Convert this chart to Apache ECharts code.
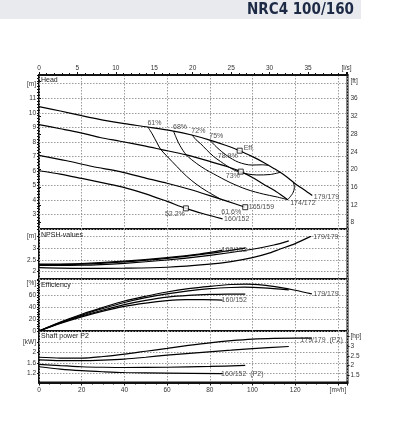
<!DOCTYPE html>
<html><head><meta charset="utf-8">
<script src="https://cdn.jsdelivr.net/npm/echarts@6/dist/echarts.min.js"></script>
<style>html,body{margin:0;padding:0;background:#fff}#c{width:394px;height:425px}</style>
</head><body><div id="c"></div>
<script>
// ---------- data ----------
const curveNames = ['179/179', '174/172', '165/159', '160/152'];
// Head [m] vs Q [m3/h]
const headA = [[0,10.42],[10,10.12],[20,9.8],[30,9.5],[40,9.25],[51,9.02],[63,8.74],[72,8.45],[80,8.12],[87,7.78],[94,7.39],[100,6.98],[105,6.6],[110,6.17],[115,5.7],[120,5.12],[124,4.72],[128,4.3]];
const headB = [[0,9.19],[10,8.9],[20,8.6],[28.6,8.3],[38,8.04],[50,7.7],[57,7.48],[69,7.1],[80,6.65],[88,6.3],[94.5,5.95],[100,5.55],[105,5.1],[111,4.58],[116.5,4.02]];
const headC = [[0,7.07],[13,6.7],[25,6.3],[38,5.95],[50,5.5],[60,5.15],[70,4.75],[80,4.3],[88,3.92],[96.6,3.5]];
const headD = [[0,6.01],[10,5.78],[20,5.48],[30,5.17],[40,4.85],[50,4.42],[60,3.9],[68.8,3.42],[77,3.05],[86,2.7]];
// iso-efficiency lines on head chart
const isoNames = ['61%', '68%', '72%', '75%'];
const iso61 = [[51,9.02],[53,8.55],[55.2,7.95],[57,7.48],[60,7.0],[64.6,6.3],[69.2,5.62],[74,5.05],[78.6,4.6],[85,4.06]];
const iso68 = [[63,8.74],[64.5,8.2],[66,7.75],[69,7.1],[73.9,6.5],[78,6.1],[81.7,5.8],[89.5,5.2],[97.4,4.72],[105.2,4.4],[111,4.22],[116.5,4.02]];
const iso72 = [[71.6,8.49],[73.5,8.15],[75.5,7.9],[78.5,7.45],[81.7,7.0],[85,6.65],[88,6.35],[91.5,6.05],[94.7,5.88],[98,5.78],[102,5.72],[108.3,5.75],[113,5.9]];
const iso75 = [[80,8.12],[83.3,7.62],[88,7.05],[93.4,6.6],[99.7,6.4],[104.4,6.42],[107.5,6.38]];
const limitArc = [[119.2,5.2],[119.6,4.85],[118.8,4.45],[116.5,4.02]];
// best efficiency points
const bepPoints = [[94,7.39],[94.5,5.95],[96.6,3.5],[68.8,3.42]];
const bepLabels = ['78.9%', '73%', '61.6%', '52.2%'];
// NPSH [m]
const npshA = [[0,2.17],[20,2.14],[40,2.15],[60,2.19],[80,2.32],[90,2.43],[100,2.6],[107,2.77],[113,2.97],[120,3.2],[127.5,3.52]];
const npshB = [[0,2.27],[20,2.28],[40,2.36],[60,2.5],[80,2.7],[100,2.96],[110,3.14],[117,3.32]];
const npshC = [[0,2.3],[20,2.32],[40,2.42],[60,2.57],[80,2.78],[96.6,3.01]];
const npshD = [[0,2.33],[20,2.35],[40,2.45],[60,2.6],[75,2.75],[86,2.92]];
// Efficiency [%]
const effA = [[0,0],[10,15],[20,28],[30,39.5],[40,50],[50,58],[60,65],[70,70.5],[80,74.5],[90,77.5],[97,78.2],[105,76.5],[112,73],[120,68],[127.8,62]];
const effB = [[0,0],[10,14],[20,26.5],[30,37.5],[40,47.5],[50,55.5],[60,62],[70,67],[80,70.5],[90,72.5],[96,73],[105,72],[117,68.5]];
const effC = [[0,0],[10,13.5],[20,25],[30,35],[40,44],[50,51],[60,56.5],[70,59.5],[80,61],[90,61.5],[96.6,61.6]];
const effD = [[0,0],[10,12.5],[20,23.5],[30,33],[40,41],[50,46.5],[60,50.5],[68.8,52.2],[77,52.2],[86,51.5]];
// Shaft power P2 [kW]
const powA = [[0,1.81],[10,1.78],[20,1.78],[30,1.84],[40,1.93],[50,2.04],[60,2.15],[70,2.26],[80,2.36],[90,2.44],[100,2.5],[110,2.53],[120,2.54],[127.8,2.54]];
const powB = [[0,1.71],[10,1.68],[20,1.68],[30,1.7],[40,1.74],[50,1.81],[60,1.89],[75,1.99],[90,2.08],[100,2.14],[117,2.22]];
const powC = [[0,1.54],[10,1.49],[20,1.45],[30,1.43],[40,1.42],[60,1.43],[80,1.46],[96.6,1.5]];
const powD = [[0,1.45],[10,1.36],[20,1.3],[30,1.26],[40,1.23],[60,1.21],[86,1.19]];
// tick values
const ftTicks = [8,12,16,20,24,28,32,36,40];
const npshTicks = [2,2.5,3,3.5];
const kwTicks = [1.2,1.6,2.0,2.4];
const hpTicks = [1.5,2,2.5,3,3.5];

// ---------- chart ----------
const FONT = "'Liberation Sans', Arial, sans-serif";
const Q_MAX = 144.5, H_MIN = 2, H_MAX = 12.6;
const M2FT = 3.28084, KW2HP = 1 / 0.7457;
const NPSH_MIN = 1.688, NPSH_MAX = 3.825, KW_MIN = 0.85, KW_MAX = 2.81;
const lbl = {fontSize: 6.5, color: '#333', fontFamily: FONT};
const dotted = {show: true, lineStyle: {color: '#9a9a9a', type: [1.5, 1.5], width: 1}};
const G = [
  {left: 39, top: 75, width: 308.5, height: 154},
  {left: 39, top: 229, width: 308.5, height: 50},
  {left: 39, top: 279, width: 308.5, height: 52},
  {left: 39, top: 331, width: 308.5, height: 51.5}
].map(g => Object.assign({show: true, borderColor: '#111', borderWidth: 2, backgroundColor: 'transparent'}, g));

function qAxis(gi, showLabels) {
  return {type: 'value', gridIndex: gi, min: 0, max: Q_MAX, interval: 20, position: 'bottom',
    axisLine: {show: showLabels, lineStyle: {color: '#111', width: 2}},
    axisTick: {show: showLabels, length: 3, lineStyle: {color: '#111'}},
    minorTick: {show: showLabels, splitNumber: 4, length: 2, lineStyle: {color: '#111'}},
    axisLabel: Object.assign({show: showLabels, margin: 4, showMaxLabel: true,
      formatter: v => v === 140 ? '[m³/h]' : (v > 140 ? '' : v)}, lbl),
    splitLine: dotted};
}
const xAxis = [
  qAxis(0, false),
  {type: 'value', gridIndex: 0, min: 0, max: Q_MAX / 3.6, interval: 5, position: 'top',
    axisLine: {show: true, lineStyle: {color: '#111', width: 2}},
    axisTick: {show: true, length: 3, lineStyle: {color: '#111'}},
    minorTick: {show: true, splitNumber: 5, length: 2, lineStyle: {color: '#111'}},
    axisLabel: Object.assign({margin: 3, formatter: v => v === 40 ? '[l/s]' : (v > 40 ? '' : v)}, lbl),
    splitLine: {show: false}},
  qAxis(1, false), qAxis(2, false), qAxis(3, true)
];
function yCustom(gi, min, max, ticks, unit, pos, fmt) {
  const last = ticks[ticks.length - 1];
  return {type: 'value', gridIndex: gi, min, max, position: pos,
    axisLine: {show: false},
    axisTick: {show: true, length: 2, customValues: ticks, lineStyle: {color: '#111'}},
    axisLabel: Object.assign({margin: 3, customValues: ticks, formatter: v => Math.abs(v - last) < 1e-6 ? unit : (fmt ? fmt(v) : v)}, lbl),
    splitLine: pos === 'left' ? dotted : {show: false}};
}
const yAxis = [
  {type: 'value', gridIndex: 0, min: H_MIN, max: H_MAX, interval: 1, position: 'left',
    axisLine: {show: false},
    axisTick: {show: true, length: 2, lineStyle: {color: '#111'}},
    minorTick: {show: true, splitNumber: 5, length: 2, lineStyle: {color: '#111'}},
    axisLabel: Object.assign({margin: 3, formatter: v => v === 12 ? '[m]' : ((v < 3 || v > 12) ? '' : v)}, lbl),
    splitLine: dotted},
  yCustom(0, H_MIN * M2FT, H_MAX * M2FT, ftTicks, '[ft]', 'right'),
  yCustom(1, NPSH_MIN, NPSH_MAX, npshTicks, '[m]', 'left'),
  {type: 'value', gridIndex: 2, min: 0, max: 86.7, interval: 20, position: 'left',
    axisLine: {show: false},
    axisTick: {show: true, length: 2, lineStyle: {color: '#111'}},
    minorTick: {show: true, splitNumber: 5, length: 2, lineStyle: {color: '#111'}},
    axisLabel: Object.assign({margin: 3, formatter: v => v === 80 ? '[%]' : (v > 80 ? '' : v)}, lbl),
    splitLine: dotted},
  yCustom(3, KW_MIN, KW_MAX, kwTicks, '[kW]', 'left', v => String(v)),
  yCustom(3, KW_MIN * KW2HP, KW_MAX * KW2HP, hpTicks, '[hp]', 'right')
];

function curve(data, xi, yi, w) {
  return {type: 'line', xAxisIndex: xi, yAxisIndex: yi, data, showSymbol: false, smooth: 0.3,
    silent: true, animation: false, z: 3, lineStyle: {color: '#000', width: w || 1.1}};
}
function ann(xi, yi, items) {
  return {type: 'scatter', xAxisIndex: xi, yAxisIndex: yi, symbolSize: 0, silent: true, z: 6, animation: false,
    data: items.map(it => ({value: it[0], label: {show: true, formatter: it[1], position: 'inside',
      align: it[2], verticalAlign: 'middle', offset: it[3], fontSize: 7, color: '#222', fontFamily: FONT}}))};
}
const last = a => a[a.length - 1];
const isoLines = [iso61, iso68, iso72, iso75];

const series = [];
[headA, headB, headC, headD].forEach(d => series.push(curve(d, 0, 0, 1.2)));
isoLines.forEach(d => series.push(curve(d, 0, 0, 1.0)));
series.push(curve(limitArc, 0, 0, 1.0));
series.push({type: 'scatter', xAxisIndex: 0, yAxisIndex: 0, data: bepPoints, symbol: 'rect', symbolSize: 5,
  silent: true, z: 5, animation: false, itemStyle: {color: '#fff', borderColor: '#000', borderWidth: 1}});
series.push(ann(0, 0, [
  [isoLines[0][0], isoNames[0], 'center', [6.5, -4]],
  [isoLines[1][0], isoNames[1], 'center', [6.5, -4]],
  [isoLines[2][0], isoNames[2], 'center', [6.5, -4]],
  [isoLines[3][0], isoNames[3], 'center', [6.5, -4]],
  [bepPoints[0], 'Eff.', 'left', [4, -3]],
  [bepPoints[0], bepLabels[0], 'center', [-12, 5]],
  [bepPoints[1], bepLabels[1], 'center', [-8, 4.5]],
  [bepPoints[2], bepLabels[2], 'center', [-14, 4.5]],
  [bepPoints[3], bepLabels[3], 'center', [-11, 5.5]],
  [bepPoints[2], curveNames[2], 'left', [3.5, 0.3]],
  [last(headA), curveNames[0], 'left', [1.5, 1]],
  [last(headB), curveNames[1], 'left', [2.5, 3.5]],
  [last(headD), curveNames[3], 'left', [1.5, 0.3]]
]));
[npshA, npshB, npshC, npshD].forEach(d => series.push(curve(d, 2, 2, 1.2)));
series.push(ann(2, 2, [[last(npshA), curveNames[0], 'left', [2, 0.5]], [last(npshD), curveNames[3], 'left', [-1, 0.3]]]));
[effA, effB, effC, effD].forEach(d => series.push(curve(d, 3, 3, 1.2)));
series.push(ann(3, 3, [[last(effA), curveNames[0], 'left', [1.5, 0.5]], [last(effD), curveNames[3], 'left', [-1, 0.3]]]));
[powA, powB, powC, powD].forEach(d => series.push(curve(d, 4, 4, 1.2)));
series.push(ann(4, 4, [[last(powA), curveNames[0] + '  (P2)', 'left', [-11.5, 2]], [last(powD), curveNames[3] + '  (P2)', 'left', [-1.5, 0.7]]]));

const titleFont = "'Liberation Sans', Arial, sans-serif";
const graphic = [
  {type: 'rect', left: 0, top: 0, shape: {width: 361, height: 19}, style: {fill: '#e9eaee'}, silent: true, z: -1},
  {type: 'text', x: 354, y: 10, style: {text: 'NRC4 100/160', align: 'right', textAlign: 'right', verticalAlign: 'middle', textVerticalAlign: 'middle',
    font: "bold 15px 'Liberation Sans Narrow', 'DejaVu Sans Condensed', sans-serif", fill: '#1c2a45'}, silent: true},
  {type: 'text', x: 41, y: 80.5, style: {text: 'Head', verticalAlign: 'middle', textVerticalAlign: 'middle', font: '7px ' + titleFont, fill: '#222'}, silent: true, z: 10},
  {type: 'text', x: 41, y: 235, style: {text: 'NPSH-values', verticalAlign: 'middle', textVerticalAlign: 'middle', font: '7px ' + titleFont, fill: '#222'}, silent: true, z: 10},
  {type: 'text', x: 41, y: 285.5, style: {text: 'Efficiency', verticalAlign: 'middle', textVerticalAlign: 'middle', font: '7px ' + titleFont, fill: '#222'}, silent: true, z: 10},
  {type: 'text', x: 41, y: 336.5, style: {text: 'Shaft power P2', verticalAlign: 'middle', textVerticalAlign: 'middle', font: '7px ' + titleFont, fill: '#222'}, silent: true, z: 10}
];

const chart = echarts.init(document.getElementById('c'), null, {renderer: 'canvas'});
chart.setOption({animation: false, backgroundColor: '#fff', grid: G, xAxis, yAxis, series, graphic});
</script></body></html>
